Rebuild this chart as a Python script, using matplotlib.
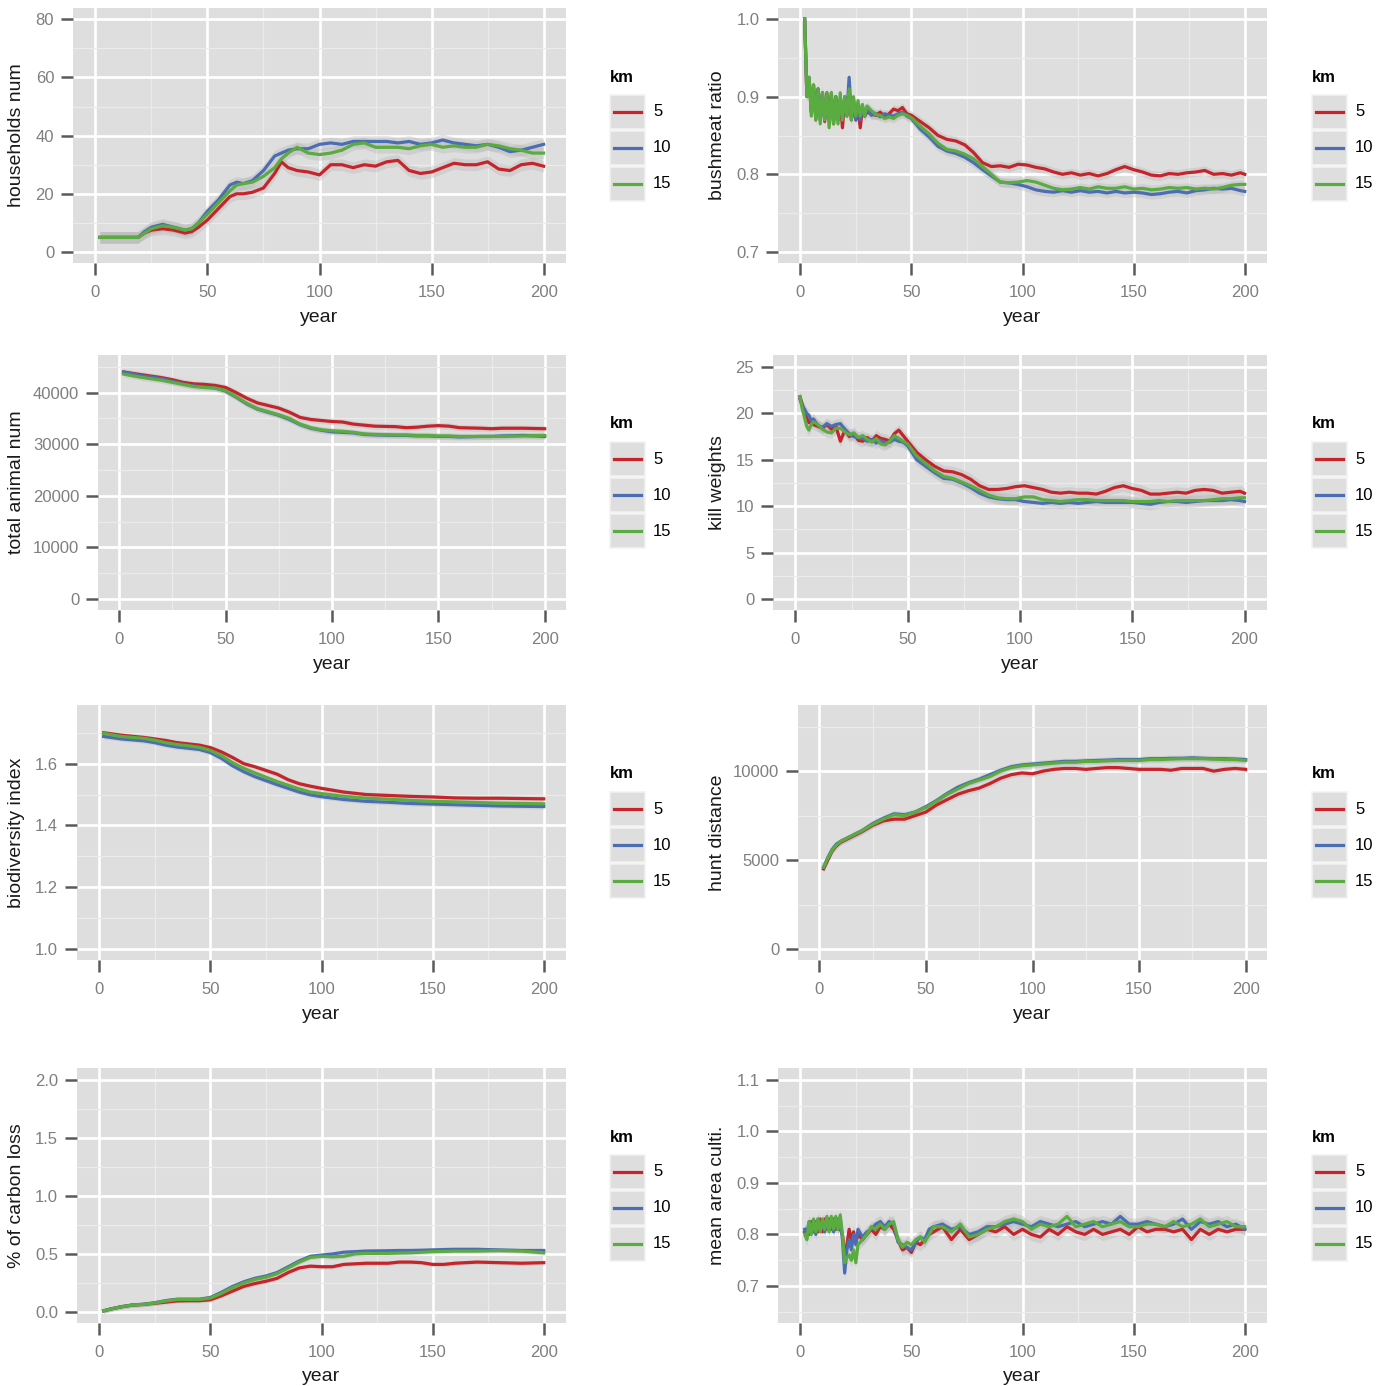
import matplotlib
matplotlib.use("Agg")
import matplotlib.pyplot as plt
import numpy as np
from matplotlib.patches import Rectangle
from matplotlib.lines import Line2D
from matplotlib.transforms import blended_transform_factory

plt.rcParams["font.family"] = ["Liberation Sans", "DejaVu Sans"]

W, H = 1380, 1386

km_levels = ["5", "10", "15"]
km_colors = ["#C7232B", "#4A6DB3", "#5AAB40"]

# ---- households num ----
hh_years = [2, 19, 22, 25, 30, 35, 40, 43, 46, 50, 55, 60, 63, 66, 70, 75, 80, 83, 86, 90, 95,
            100, 105, 110, 115, 120, 125, 130, 135, 140, 145, 150, 155, 160, 165, 170, 175,
            180, 185, 190, 195, 200]
hh_5 = [5, 5, 6.5, 7.5, 8, 7.5, 6.5, 7, 8.5, 11, 15, 19, 20, 20, 20.5, 22, 27, 31, 29, 28, 27.5,
        26.5, 30, 30, 29, 30, 29.5, 31, 31.5, 28, 27, 27.5, 29, 30.5, 30, 30, 31, 28.5, 28, 30, 30.5, 29.5]
hh_10 = [5, 5, 7, 8.5, 9.5, 8.5, 7.5, 8, 10, 14, 18, 23, 24, 23.5, 24.5, 28, 33, 34, 35, 35.5, 35.5,
         37, 37.5, 37, 38, 38, 38, 38, 37.5, 38, 37, 37.5, 38.5, 37.5, 37, 36.5, 37, 36, 34.5, 35, 36, 37]
hh_15 = [5, 5, 6.5, 8, 9, 8.5, 7.5, 8, 10, 13, 17, 21, 23, 23.5, 24, 26, 29, 32, 34, 36, 34,
         33.5, 34, 35, 37, 37.5, 36, 36, 36, 35.5, 36.5, 37, 36, 36.5, 36, 36, 37, 36.5, 35.5, 35, 34, 34]

# ---- bushmeat ratio ----
bm_years = np.r_[2:31, 32:51:2, 54:199:4, 200]
bm_5 = [1.00, 0.90, 0.92, 0.88, 0.915, 0.87, 0.91, 0.875, 0.905, 0.868,
        0.905, 0.87, 0.90, 0.865, 0.90, 0.87, 0.895, 0.86, 0.895, 0.875,
        0.91, 0.87, 0.89, 0.87, 0.885, 0.86, 0.885, 0.875, 0.88,
        0.878, 0.876, 0.88, 0.874, 0.878, 0.884, 0.882, 0.886, 0.878, 0.876,
        0.868, 0.86, 0.85, 0.845, 0.843, 0.838, 0.828, 0.815, 0.81, 0.811, 0.809, 0.813, 0.812,
        0.809, 0.807, 0.803, 0.80, 0.802, 0.799, 0.801, 0.798, 0.801, 0.806, 0.81, 0.806, 0.803,
        0.799, 0.798, 0.801, 0.80, 0.802, 0.803, 0.805, 0.80, 0.801, 0.799, 0.802, 0.80]
bm_10 = [1.00, 0.90, 0.925, 0.88, 0.91, 0.875, 0.91, 0.87, 0.905, 0.87,
         0.90, 0.875, 0.905, 0.87, 0.90, 0.875, 0.895, 0.87, 0.90, 0.88,
         0.925, 0.875, 0.895, 0.87, 0.89, 0.87, 0.885, 0.875, 0.885,
         0.876, 0.878, 0.874, 0.878, 0.876, 0.875, 0.878, 0.88, 0.875, 0.872,
         0.858, 0.848, 0.836, 0.83, 0.827, 0.822, 0.815, 0.806, 0.798, 0.79, 0.789, 0.787, 0.784,
         0.78, 0.778, 0.777, 0.779, 0.777, 0.779, 0.777, 0.778, 0.776, 0.778, 0.776, 0.777, 0.776,
         0.774, 0.775, 0.777, 0.778, 0.776, 0.779, 0.78, 0.782, 0.781, 0.782, 0.779, 0.778]
bm_15 = [1.00, 0.90, 0.925, 0.875, 0.915, 0.87, 0.91, 0.865, 0.905, 0.87,
         0.905, 0.86, 0.905, 0.865, 0.90, 0.865, 0.905, 0.87, 0.90, 0.875,
         0.91, 0.87, 0.90, 0.875, 0.895, 0.875, 0.89, 0.875, 0.888,
         0.882, 0.877, 0.876, 0.872, 0.874, 0.872, 0.876, 0.878, 0.876, 0.873,
         0.862, 0.852, 0.84, 0.832, 0.83, 0.826, 0.82, 0.81, 0.80, 0.79, 0.789, 0.79, 0.792,
         0.79, 0.786, 0.782, 0.78, 0.781, 0.783, 0.781, 0.784, 0.782, 0.782, 0.784, 0.781, 0.782,
         0.78, 0.781, 0.783, 0.782, 0.783, 0.781, 0.782, 0.781, 0.783, 0.786, 0.787, 0.787]

# ---- total animal num ----
an_years = [2, 10, 20, 25, 30, 35, 40, 45, 50, 55, 60, 65, 70, 75, 80, 85, 90, 95, 100, 105, 110,
            115, 120, 130, 135, 140, 145, 150, 155, 160, 170, 175, 180, 190, 200]
an_5 = [44000, 43500, 42900, 42500, 42000, 41700, 41600, 41400, 41000, 40000, 38900, 38000, 37500,
        37000, 36200, 35200, 34800, 34600, 34400, 34300, 33900, 33700, 33500, 33400, 33200, 33300,
        33500, 33600, 33500, 33200, 33100, 33000, 33100, 33100, 33000]
an_10 = [44000, 43300, 42700, 42200, 41700, 41300, 41100, 40900, 40300, 39100, 37800, 36800, 36200,
         35600, 34800, 33800, 33100, 32700, 32400, 32300, 32200, 31900, 31800, 31700, 31700, 31600,
         31600, 31500, 31500, 31400, 31500, 31500, 31600, 31700, 31500]
an_15 = [43600, 43000, 42400, 42000, 41600, 41200, 41000, 40900, 40400, 39200, 37900, 36900, 36300,
         35700, 35000, 33900, 33200, 32800, 32600, 32500, 32300, 32000, 31900, 31800, 31800, 31700,
         31700, 31600, 31600, 31500, 31500, 31500, 31500, 31600, 31700]

# ---- kill weights ----
kw_years = np.r_[2:9, 10:51:2, 54:199:4, 200]
kw_5 = [21.8, 21.0, 20.2, 19.5, 19.0, 19.2, 18.8,
        18.6, 18.4, 18.8, 18.3, 18.6, 17.0, 18.2, 17.5, 17.8, 17.1, 17.0, 17.4, 17.0, 17.6, 17.3,
        17.2, 17.0, 17.8, 18.2, 17.6, 17.0,
        15.8, 15.0, 14.3, 13.8, 13.7, 13.4, 12.9, 12.2, 11.8, 11.8, 11.9, 12.1, 12.2, 12.0, 11.8,
        11.5, 11.4, 11.5, 11.4, 11.4, 11.3, 11.6, 12.0, 12.2, 11.9, 11.7, 11.3, 11.3, 11.4, 11.5,
        11.4, 11.7, 11.8, 11.7, 11.4, 11.5, 11.6, 11.4]
kw_10 = [21.5, 20.8, 20.5, 20.0, 19.8, 19.2, 19.4,
         18.7, 18.5, 18.9, 18.6, 18.8, 18.9, 18.3, 17.8, 17.5, 17.4, 17.3, 17.0, 17.2, 16.8, 17.1,
         16.8, 16.9, 17.2, 17.0, 16.9, 16.5,
         15.0, 14.3, 13.6, 13.0, 12.9, 12.5, 12.0, 11.4, 11.0, 10.8, 10.7, 10.7, 10.5, 10.4, 10.3,
         10.4, 10.3, 10.4, 10.3, 10.4, 10.5, 10.4, 10.4, 10.4, 10.4, 10.3, 10.2, 10.4, 10.5, 10.5,
         10.4, 10.5, 10.6, 10.6, 10.6, 10.7, 10.6, 10.5]
kw_15 = [21.8, 20.5, 19.6, 18.6, 18.2, 18.8, 19.1,
         18.8, 18.3, 18.0, 17.9, 18.4, 18.4, 18.0, 17.7, 17.9, 17.4, 17.6, 17.2, 16.9, 17.3, 16.7,
         16.6, 17.0, 17.6, 17.3, 17.0, 16.7,
         15.4, 14.6, 13.8, 13.2, 13.0, 12.6, 12.2, 11.7, 11.2, 10.9, 10.8, 10.8, 11.0, 11.0, 10.7,
         10.6, 10.5, 10.6, 10.7, 10.7, 10.6, 10.6, 10.6, 10.6, 10.5, 10.5, 10.5, 10.6, 10.5, 10.6,
         10.6, 10.6, 10.6, 10.7, 10.8, 10.8, 10.9, 10.9]

# ---- biodiversity index ----
bd_years = [2, 10, 20, 25, 30, 35, 40, 45, 50, 55, 60, 65, 70, 75, 80, 85, 90, 95, 100,
            110, 120, 130, 140, 150, 160, 170, 180, 190, 200]
bd_5 = [1.700, 1.692, 1.685, 1.680, 1.675, 1.668, 1.664, 1.660, 1.652, 1.638, 1.620, 1.600, 1.590,
        1.578, 1.566, 1.548, 1.535, 1.527, 1.520, 1.508, 1.500, 1.497, 1.494, 1.492, 1.489, 1.488,
        1.488, 1.487, 1.486]
bd_10 = [1.688, 1.680, 1.674, 1.668, 1.660, 1.654, 1.650, 1.646, 1.636, 1.617, 1.593, 1.574, 1.558,
         1.545, 1.532, 1.520, 1.508, 1.499, 1.493, 1.484, 1.478, 1.475, 1.471, 1.469, 1.467, 1.465,
         1.463, 1.462, 1.461]
bd_15 = [1.698, 1.688, 1.682, 1.676, 1.668, 1.662, 1.658, 1.653, 1.643, 1.626, 1.603, 1.585, 1.570,
         1.556, 1.542, 1.530, 1.518, 1.508, 1.503, 1.494, 1.488, 1.485, 1.481, 1.478, 1.476, 1.474,
         1.472, 1.471, 1.470]

# ---- hunt distance ----
hd_years = [2, 4, 6, 8, 10, 15, 20, 25, 30, 35, 40, 45, 50, 55, 60, 65, 70, 75, 80, 85, 90, 95,
            100, 105, 110, 115, 120, 125, 130, 135, 140, 145, 150, 155, 160, 165, 170, 175, 180,
            185, 190, 195, 200]
hd_5 = [4500, 5000, 5500, 5800, 6000, 6300, 6600, 6950, 7200, 7300, 7300, 7500, 7700, 8100, 8400,
        8700, 8900, 9050, 9300, 9600, 9800, 9900, 9850, 10000, 10100, 10150, 10150, 10100, 10150,
        10200, 10200, 10150, 10100, 10100, 10100, 10050, 10150, 10150, 10150, 10000, 10100, 10150, 10100]
hd_10 = [4600, 5150, 5600, 5900, 6050, 6350, 6650, 7050, 7350, 7600, 7550, 7700, 8000, 8350, 8750,
         9100, 9350, 9550, 9800, 10050, 10250, 10350, 10400, 10450, 10500, 10550, 10550, 10580,
         10600, 10620, 10650, 10650, 10650, 10700, 10700, 10720, 10720, 10750, 10720, 10700, 10700,
         10680, 10650]
hd_15 = [4600, 5100, 5550, 5850, 6050, 6350, 6650, 7000, 7300, 7550, 7500, 7700, 7950, 8300, 8700,
         9000, 9300, 9500, 9700, 10000, 10200, 10300, 10350, 10400, 10450, 10500, 10500, 10550,
         10550, 10580, 10600, 10600, 10600, 10650, 10650, 10680, 10700, 10700, 10700, 10680, 10650,
         10650, 10600]

# ---- % of carbon loss ----
cl_years = [2, 5, 10, 15, 20, 25, 30, 35, 40, 45, 50, 55, 60, 65, 70, 75, 80, 85, 90, 95, 100,
            105, 110, 115, 120, 130, 135, 140, 145, 150, 155, 160, 170, 180, 190, 200]
cl_5 = [0.01, 0.025, 0.045, 0.06, 0.065, 0.075, 0.085, 0.095, 0.097, 0.097, 0.105, 0.14, 0.18,
        0.22, 0.245, 0.265, 0.29, 0.34, 0.38, 0.395, 0.39, 0.39, 0.41, 0.415, 0.42, 0.42, 0.43,
        0.43, 0.425, 0.41, 0.41, 0.42, 0.43, 0.425, 0.42, 0.425]
cl_10 = [0.01, 0.025, 0.045, 0.06, 0.067, 0.08, 0.098, 0.11, 0.11, 0.11, 0.125, 0.17, 0.22, 0.26,
         0.29, 0.31, 0.34, 0.39, 0.44, 0.48, 0.49, 0.50, 0.515, 0.52, 0.525, 0.528, 0.53, 0.53,
         0.532, 0.535, 0.538, 0.54, 0.54, 0.535, 0.53, 0.53]
cl_15 = [0.01, 0.025, 0.045, 0.06, 0.065, 0.078, 0.095, 0.108, 0.108, 0.108, 0.12, 0.16, 0.21,
         0.25, 0.28, 0.30, 0.33, 0.38, 0.43, 0.47, 0.48, 0.475, 0.48, 0.50, 0.505, 0.505, 0.508,
         0.51, 0.515, 0.52, 0.522, 0.525, 0.525, 0.53, 0.525, 0.51]

# ---- mean area culti. ----
ma_years = np.r_[2:20, 20:27, 28:61:2, 64:197:4, 200]
ma_5 = [0.805, 0.81, 0.80, 0.825, 0.805, 0.825, 0.805, 0.83, 0.805, 0.83, 0.81, 0.83, 0.81, 0.83,
        0.81, 0.83, 0.81, 0.80,
        0.76, 0.78, 0.81, 0.79, 0.805, 0.785, 0.80,
        0.79, 0.80, 0.81, 0.80, 0.815, 0.81, 0.82, 0.81, 0.79, 0.77, 0.775, 0.765, 0.785, 0.78,
        0.79, 0.80, 0.805,
        0.815, 0.79, 0.81, 0.79, 0.80, 0.81, 0.805, 0.815, 0.80, 0.81, 0.80, 0.795, 0.81, 0.80,
        0.815, 0.805, 0.80, 0.81, 0.80, 0.805, 0.81, 0.80, 0.815, 0.805, 0.81, 0.81, 0.805, 0.81,
        0.79, 0.81, 0.80, 0.81, 0.805, 0.81, 0.81]
ma_10 = [0.81, 0.80, 0.825, 0.805, 0.82, 0.80, 0.83, 0.81, 0.825, 0.805, 0.83, 0.81, 0.83, 0.805,
         0.825, 0.81, 0.83, 0.79,
         0.725, 0.77, 0.79, 0.77, 0.80, 0.78, 0.81,
         0.795, 0.805, 0.81, 0.82, 0.825, 0.815, 0.825, 0.82, 0.785, 0.78, 0.775, 0.77, 0.785,
         0.795, 0.79, 0.81, 0.815,
         0.82, 0.81, 0.815, 0.80, 0.805, 0.815, 0.815, 0.82, 0.825, 0.82, 0.815, 0.825, 0.82,
         0.815, 0.82, 0.825, 0.815, 0.82, 0.825, 0.82, 0.835, 0.82, 0.82, 0.825, 0.82, 0.815,
         0.82, 0.83, 0.81, 0.825, 0.82, 0.825, 0.815, 0.82, 0.81]
ma_15 = [0.80, 0.79, 0.825, 0.80, 0.83, 0.805, 0.83, 0.805, 0.83, 0.81, 0.835, 0.805, 0.835, 0.81,
         0.835, 0.81, 0.838, 0.80,
         0.745, 0.755, 0.76, 0.75, 0.77, 0.745, 0.78,
         0.79, 0.80, 0.815, 0.81, 0.82, 0.81, 0.82, 0.825, 0.79, 0.775, 0.785, 0.78, 0.79, 0.795,
         0.785, 0.80, 0.815,
         0.815, 0.805, 0.82, 0.795, 0.80, 0.81, 0.815, 0.825, 0.83, 0.825, 0.81, 0.82, 0.815,
         0.82, 0.835, 0.815, 0.82, 0.825, 0.815, 0.82, 0.825, 0.815, 0.815, 0.82, 0.82, 0.815,
         0.825, 0.815, 0.82, 0.83, 0.815, 0.82, 0.825, 0.815, 0.815]


def fx(px):
    return px / W


def fy(py):
    return 1 - py / H


def draw_panel(fig, box, years, series, band, ylim, yticks, yminor, ylabel, fmt,
               ylab_x, xlab_y):
    left, right, top, bottom = box
    ax = fig.add_axes([fx(left), fy(bottom), (right - left) / W, (bottom - top) / H])
    ax.set_facecolor("#DEDEDE")
    for s in ax.spines.values():
        s.set_visible(False)
    ax.set_axisbelow(True)

    for vals in series:
        vals = np.asarray(vals, dtype=float)
        ax.fill_between(years, vals - band, vals + band, color="#B4B4B4", alpha=0.35, lw=0)
    for vals, col in zip(series, km_colors):
        ax.plot(years, vals, color=col, lw=2.3, solid_joinstyle="round")

    ax.set_xlim(-10, 210)
    ax.set_ylim(*ylim)
    ax.set_xticks([0, 50, 100, 150, 200])
    ax.set_xticks([25, 75, 125, 175], minor=True)
    ax.set_yticks(yticks)
    ax.set_yticklabels([fmt.format(v) for v in yticks])
    ax.set_yticks(yminor, minor=True)
    ax.grid(True, which="major", color="white", lw=1.9)
    ax.grid(True, which="minor", color="#EBEBEB", lw=0.9)
    ax.tick_params(which="major", length=8.5, width=1.8, color="#5A5A5A",
                   labelcolor="#7F7F7F", labelsize=12, pad=5)
    ax.tick_params(axis="x", which="major", pad=7)
    ax.tick_params(which="minor", length=0)

    ax.set_ylabel(ylabel, fontsize=14, color="#1A1A1A")
    ax.yaxis.set_label_coords(fx(ylab_x), 0.5,
                              transform=blended_transform_factory(fig.transFigure, ax.transAxes))
    ax.set_xlabel("year", fontsize=14, color="#1A1A1A", va="baseline")
    ax.xaxis.set_label_coords(0.5, fy(xlab_y),
                              transform=blended_transform_factory(ax.transAxes, fig.transFigure))
    return ax


def draw_legend(fig, x0, row_off):
    fig.text(fx(x0), fy(77 + row_off), "km", fontsize=12, fontweight="bold",
             ha="left", va="center")
    for i, (lab, col) in enumerate(zip(km_levels, km_colors)):
        ktop = 95 + row_off + i * 36
        fig.patches.append(Rectangle((fx(x0), fy(ktop + 34)), 35 / W, 34 / H,
                                     transform=fig.transFigure, facecolor="#DEDEDE",
                                     edgecolor="#F2F2F2", lw=1.2))
        fig.lines.append(Line2D([fx(x0 + 4), fx(x0 + 31)], [fy(ktop + 17)] * 2,
                                transform=fig.transFigure, color=col, lw=2.3))
        fig.text(fx(x0 + 43), fy(ktop + 17), lab, fontsize=12, ha="left", va="center")


fig = plt.figure(figsize=(W / 100, H / 100), dpi=100)
fig.patch.set_facecolor("white")

draw_panel(fig, (73, 566, 8, 263), hh_years, [hh_5, hh_10, hh_15], 2.0, (-3.8, 83.9),
           [0, 20, 40, 60, 80], [10, 30, 50, 70], "households num", "{:.0f}", 25, 322)
draw_panel(fig, (778, 1267, 8, 263), bm_years, [bm_5, bm_10, bm_15], 0.006, (0.6858, 1.0142),
           [0.7, 0.8, 0.9, 1.0], [0.75, 0.85, 0.95], "bushmeat ratio", "{:.1f}", 726, 322)
draw_panel(fig, (98, 566, 355, 610), an_years, [an_5, an_10, an_15], 600, (-2150, 47300),
           [0, 10000, 20000, 30000, 40000], [5000, 15000, 25000, 35000, 45000],
           "total animal num", "{:.0f}", 25, 669)
draw_panel(fig, (773, 1267, 355, 610), kw_years, [kw_5, kw_10, kw_15], 0.6, (-1.2, 26.3),
           [0, 5, 10, 15, 20, 25], [2.5, 7.5, 12.5, 17.5, 22.5], "kill weights", "{:.0f}", 726, 669)
draw_panel(fig, (77, 566, 705, 960), bd_years, [bd_5, bd_10, bd_15], 0.008, (0.964, 1.79),
           [1.0, 1.2, 1.4, 1.6], [1.1, 1.3, 1.5, 1.7], "biodiversity index", "{:.1f}", 25, 1019)
draw_panel(fig, (798, 1267, 705, 960), hd_years, [hd_5, hd_10, hd_15], 180, (-620, 13720),
           [0, 5000, 10000], [2500, 7500, 12500], "hunt distance", "{:.0f}", 726, 1019)
draw_panel(fig, (77, 566, 1068, 1323), cl_years, [cl_5, cl_10, cl_15], 0.02, (-0.095, 2.103),
           [0.0, 0.5, 1.0, 1.5, 2.0], [0.25, 0.75, 1.25, 1.75], "% of carbon loss", "{:.1f}",
           25, 1381)
draw_panel(fig, (778, 1267, 1068, 1323), ma_years, [ma_5, ma_10, ma_15], 0.012, (0.628, 1.1233),
           [0.7, 0.8, 0.9, 1.0, 1.1], [0.65, 0.75, 0.85, 0.95, 1.05], "mean area culti.", "{:.1f}",
           726, 1381)

for row_off in [0, 347, 697, 1060]:
    draw_legend(fig, 610, row_off)
    draw_legend(fig, 1312, row_off)

fig.savefig("out.png", dpi=100, facecolor="white")
